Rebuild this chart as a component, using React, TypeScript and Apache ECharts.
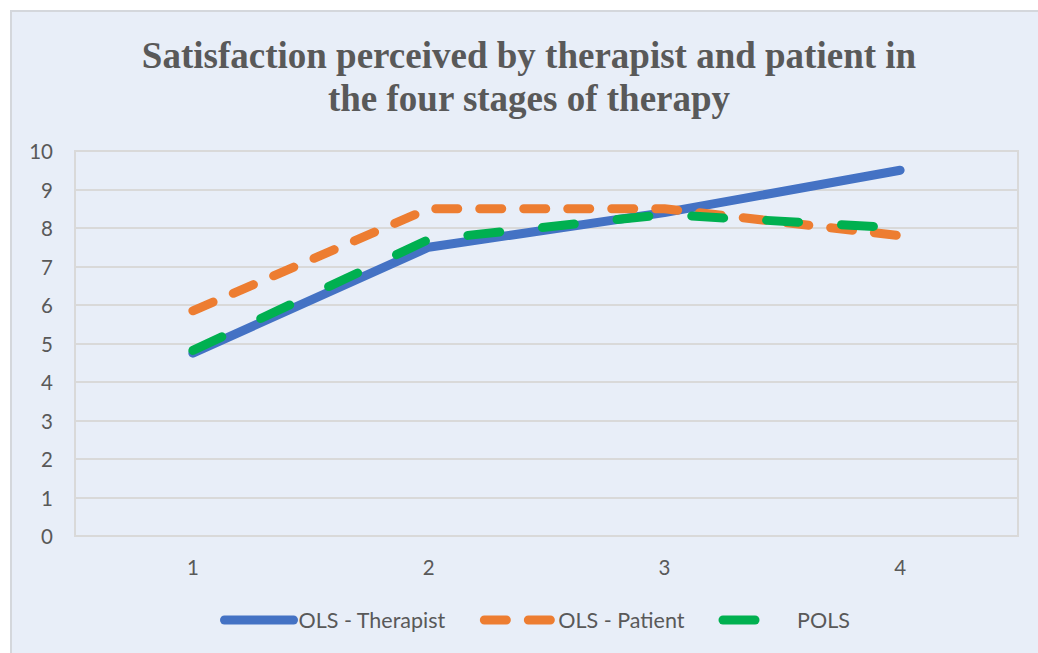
import React, { useEffect, useRef } from "react";
import * as echarts from "echarts";

const titleText = "Satisfaction perceived by therapist and patient in\nthe four stages of therapy";
const categories = ["1", "2", "3", "4"];
const therapist = [4.75, 7.5, 8.4, 9.5];
const patient = [5.85, 8.5, 8.5, 7.8];
const pols = [4.82, 7.7, 8.35, 8.0];
const seriesNames = ["OLS - Therapist", "OLS - Patient", "POLS"];
const seriesColors = ["#4472C4", "#ED7D31", "#00B050"];

export default function App() {
  const ref = useRef<HTMLDivElement>(null);
  useEffect(() => {
    const chart = echarts.init(ref.current!, undefined, { renderer: "svg" });
    const labelFont = "Lato, 'Open Sans', sans-serif";
    chart.setOption({
      animation: false,
      backgroundColor: "#ffffff",
      graphic: [
        {
          type: "rect",
          z: -10,
          silent: true,
          shape: { x: 11, y: 11, width: 1060, height: 680 },
          style: { fill: "#e8eef8", stroke: "#d4d7dc", lineWidth: 2 },
        },
      ],
      title: {
        text: titleText,
        left: 524,
        textAlign: "center",
        top: 29,
        textStyle: {
          fontFamily: "'Liberation Serif', 'Times New Roman', serif",
          fontWeight: "bold",
          fontSize: 37,
          lineHeight: 43,
          color: "#595959",
        },
      },
      grid: {
        left: 75,
        right: 20,
        top: 151,
        bottom: 117,
        show: true,
        borderColor: "#d9d9d9",
        borderWidth: 2,
      },
      legend: {
        bottom: 17,
        left: 215,
        itemWidth: 69,
        itemHeight: 12,
        itemGap: 34,
        data: seriesNames,
        itemStyle: { opacity: 0 },
        lineStyle: { width: 9 },
        textStyle: { fontFamily: labelFont, fontSize: 21.5, color: "#595959" },
      },
      xAxis: {
        type: "category",
        data: categories,
        boundaryGap: true,
        axisLine: { show: true, lineStyle: { color: "#d9d9d9", width: 2 } },
        axisTick: { show: false },
        axisLabel: { color: "#595959", fontFamily: labelFont, fontSize: 20.5, margin: 20 },
        splitLine: { show: false },
      },
      yAxis: {
        type: "value",
        min: 0,
        max: 10,
        interval: 1,
        axisLine: { show: false },
        axisTick: { show: false },
        axisLabel: { color: "#595959", fontFamily: labelFont, fontSize: 20.5, margin: 22 },
        splitLine: { lineStyle: { color: "#d9d9d9", width: 2 } },
      },
      series: [
        {
          name: seriesNames[0],
          type: "line",
          data: therapist,
          showSymbol: false,
          symbol: "none",
          color: seriesColors[0],
          lineStyle: { color: seriesColors[0], width: 9, cap: "round", join: "round" },
        },
        {
          name: seriesNames[1],
          type: "line",
          data: patient,
          showSymbol: false,
          symbol: "none",
          color: seriesColors[1],
          lineStyle: { color: seriesColors[1], width: 9, type: [22, 22], cap: "round", join: "round" },
        },
        {
          name: seriesNames[2],
          type: "line",
          data: pols,
          showSymbol: false,
          symbol: "none",
          color: seriesColors[2],
          lineStyle: { color: seriesColors[2], width: 9, type: [32, 43], cap: "round", join: "round" },
        },
      ],
    });
    return () => chart.dispose();
  }, []);
  return (
    <div
      ref={ref}
      style={{ position: "absolute", left: 0, top: 0, width: 1038, height: 653 }}
    />
  );
}
